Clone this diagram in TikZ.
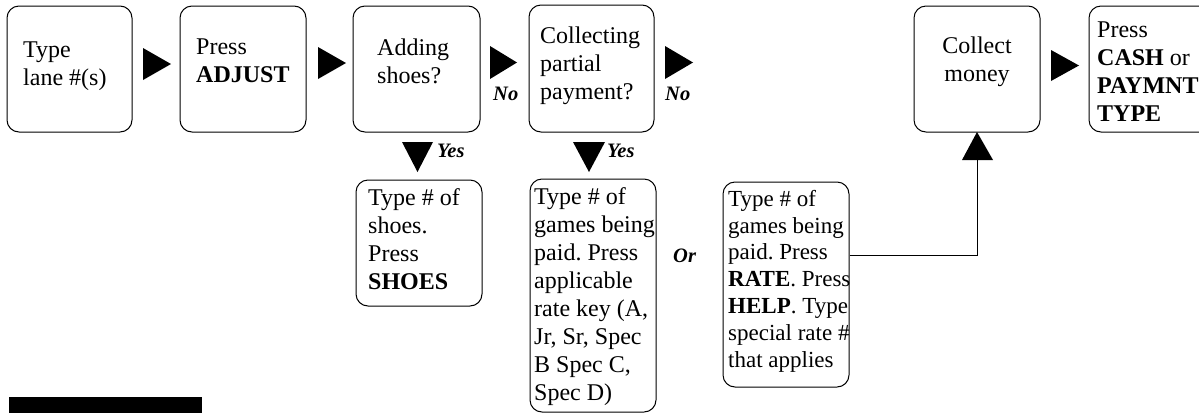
\documentclass[tikz,border=0pt]{standalone}
\usepackage{fontspec}
\setmainfont{Liberation Serif}
\frenchspacing
\begin{document}
\begin{tikzpicture}[x=1pt,y=-1pt,
  box/.style={draw, line width=1pt, rounded corners=12pt, inner sep=0pt},
  txt/.style={inner sep=0pt, align=left, anchor=base west, font=\fontsize{24}{28}\selectfont},
  ctxt/.style={inner sep=0pt, align=center, anchor=base, font=\fontsize{24}{28}\selectfont},
  lbl/.style={inner sep=0pt, anchor=base west, font=\fontsize{20.5}{24}\selectfont\bfseries\itshape},
  tri/.style={fill=black},
  conn/.style={draw, line width=0.9pt}]
\clip (0,0) rectangle (1199,413);
% top row boxes
\node[box, minimum width=125pt, minimum height=126pt] (b1) at (69.5,69) {};
\node[box, minimum width=126pt, minimum height=126pt] (b2) at (243,69) {};
\node[box, minimum width=127pt, minimum height=126pt] (b3) at (416.5,69) {};
\node[box, minimum width=125pt, minimum height=127pt] (b4) at (591.5,68.5) {};
\node[box, minimum width=126pt, minimum height=126pt] (b5) at (977,69) {};
\node[box, minimum width=126pt, minimum height=126pt] (b6) at (1152,69) {};
% lower boxes
\node[box, minimum width=126pt, minimum height=126pt] (s1) at (419,243) {};
\node[box, minimum width=126pt, minimum height=233pt] (s2) at (593,295.5) {};
\node[box, minimum width=126pt, minimum height=205pt] (s3) at (786,284.5) {};
% texts (anchored at the baseline of their last line)
\node[txt] (t1) at (23,85) {Type\\lane \#(s)};
\node[txt] (t2) at (196,82) {Press\\\textbf{ADJUST}};
\node[txt] (t3) at (377,83) {Adding\\shoes?};
\node[txt] (t4) at (540,99) {Collecting\\partial\\payment?};
\node[ctxt] (t5) at (977,81) {Collect\\money};
\node[txt] (t6) at (1097,121) {Press\\\textbf{CASH} or\\\textbf{PAYMNT}\\\textbf{TYPE}};
\node[txt] (u1) at (368,289) {Type \# of\\shoes.\\Press\\\textbf{SHOES}};
\node[txt] (u2) at (534,400) {Type \# of\\games being\\paid. Press\\applicable\\rate key (A,\\Jr, Sr, Spec\\B Spec C,\\Spec D)};
\node[txt, font=\fontsize{23}{26.8}\selectfont] (u3) at (728,367) {Type \# of\\games being\\paid. Press\\\textbf{RATE}. Press\\\textbf{HELP}. Type\\special rate \#\\that applies};
% labels
\node[lbl] (no1) at (493,100) {No};
\node[lbl] (no2) at (665,100) {No};
\node[lbl] (yes1) at (437,157) {Yes};
\node[lbl] (yes2) at (607,157) {Yes};
\node[lbl] (or) at (673,262) {Or};
% arrow triangles
\fill[tri] (143,48) -- (143,80) -- (171,64) -- cycle;
\fill[tri] (318,47) -- (318,79) -- (346,63) -- cycle;
\fill[tri] (490,46) -- (490,79) -- (517,62.5) -- cycle;
\fill[tri] (665,46) -- (665,79) -- (693,62.5) -- cycle;
\fill[tri] (1051,50) -- (1051,81) -- (1079,65.5) -- cycle;
\fill[tri] (402,142) -- (433,142) -- (417.5,172) -- cycle;
\fill[tri] (573,142) -- (605,142) -- (589,172) -- cycle;
\fill[tri] (962,160) -- (993,160) -- (977,132) -- cycle;
\coordinate (upbase) at (977,160);
\draw[conn] ([yshift=29.5pt]s3.east) -| (upbase);
% black bar
\fill (9,397) rectangle (202,413);
\end{tikzpicture}
\end{document}
